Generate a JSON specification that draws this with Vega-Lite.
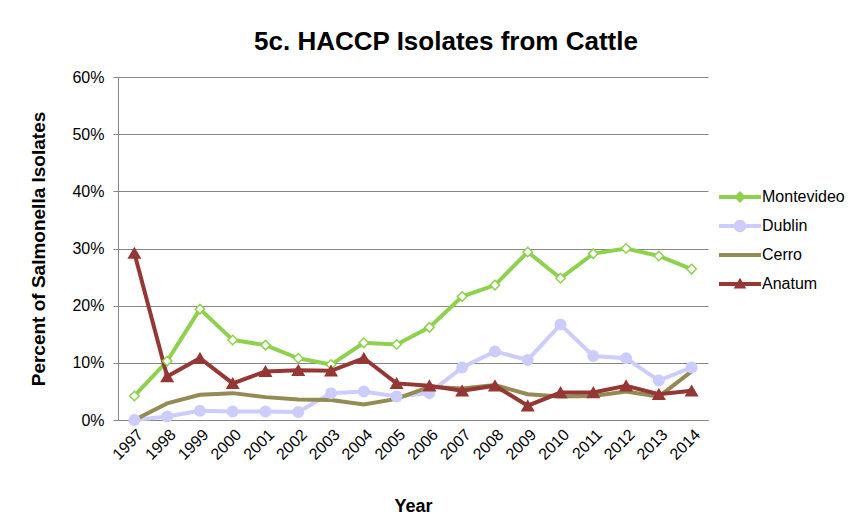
{
  "$schema": "https://vega.github.io/schema/vega-lite/v6.json",
  "autosize": {"type": "none"},
  "width": 590,
  "height": 343,
  "padding": {"left": 118, "top": 77, "right": 156, "bottom": 103},
  "background": "white",
  "config": {
    "font": "Arial",
    "view": {"stroke": null},
    "axis": {"labelFont": "Arial", "titleFont": "Arial", "labelColor": "black", "titleColor": "black"}
  },
  "title": {
    "text": "5c. HACCP Isolates from Cattle",
    "fontSize": 26,
    "fontWeight": "bold",
    "font": "Arial",
    "color": "black",
    "anchor": "middle",
    "dx": 33,
    "offset": 14
  },
  "data": {
    "values": [
      {"Year": "1997", "Series": "Montevideo", "Value": 0.042},
      {"Year": "1998", "Series": "Montevideo", "Value": 0.103},
      {"Year": "1999", "Series": "Montevideo", "Value": 0.194},
      {"Year": "2000", "Series": "Montevideo", "Value": 0.140},
      {"Year": "2001", "Series": "Montevideo", "Value": 0.131},
      {"Year": "2002", "Series": "Montevideo", "Value": 0.108},
      {"Year": "2003", "Series": "Montevideo", "Value": 0.097},
      {"Year": "2004", "Series": "Montevideo", "Value": 0.135},
      {"Year": "2005", "Series": "Montevideo", "Value": 0.132},
      {"Year": "2006", "Series": "Montevideo", "Value": 0.162},
      {"Year": "2007", "Series": "Montevideo", "Value": 0.216},
      {"Year": "2008", "Series": "Montevideo", "Value": 0.236},
      {"Year": "2009", "Series": "Montevideo", "Value": 0.294},
      {"Year": "2010", "Series": "Montevideo", "Value": 0.248},
      {"Year": "2011", "Series": "Montevideo", "Value": 0.291},
      {"Year": "2012", "Series": "Montevideo", "Value": 0.300},
      {"Year": "2013", "Series": "Montevideo", "Value": 0.287},
      {"Year": "2014", "Series": "Montevideo", "Value": 0.264},
      {"Year": "1997", "Series": "Dublin", "Value": 0.000},
      {"Year": "1998", "Series": "Dublin", "Value": 0.006},
      {"Year": "1999", "Series": "Dublin", "Value": 0.016},
      {"Year": "2000", "Series": "Dublin", "Value": 0.015},
      {"Year": "2001", "Series": "Dublin", "Value": 0.015},
      {"Year": "2002", "Series": "Dublin", "Value": 0.014},
      {"Year": "2003", "Series": "Dublin", "Value": 0.047},
      {"Year": "2004", "Series": "Dublin", "Value": 0.050},
      {"Year": "2005", "Series": "Dublin", "Value": 0.041},
      {"Year": "2006", "Series": "Dublin", "Value": 0.047},
      {"Year": "2007", "Series": "Dublin", "Value": 0.092},
      {"Year": "2008", "Series": "Dublin", "Value": 0.120},
      {"Year": "2009", "Series": "Dublin", "Value": 0.105},
      {"Year": "2010", "Series": "Dublin", "Value": 0.167},
      {"Year": "2011", "Series": "Dublin", "Value": 0.112},
      {"Year": "2012", "Series": "Dublin", "Value": 0.108},
      {"Year": "2013", "Series": "Dublin", "Value": 0.069},
      {"Year": "2014", "Series": "Dublin", "Value": 0.092},
      {"Year": "1997", "Series": "Cerro", "Value": 0.000},
      {"Year": "1998", "Series": "Cerro", "Value": 0.029},
      {"Year": "1999", "Series": "Cerro", "Value": 0.044},
      {"Year": "2000", "Series": "Cerro", "Value": 0.047},
      {"Year": "2001", "Series": "Cerro", "Value": 0.040},
      {"Year": "2002", "Series": "Cerro", "Value": 0.036},
      {"Year": "2003", "Series": "Cerro", "Value": 0.035},
      {"Year": "2004", "Series": "Cerro", "Value": 0.027},
      {"Year": "2005", "Series": "Cerro", "Value": 0.037},
      {"Year": "2006", "Series": "Cerro", "Value": 0.058},
      {"Year": "2007", "Series": "Cerro", "Value": 0.055},
      {"Year": "2008", "Series": "Cerro", "Value": 0.061},
      {"Year": "2009", "Series": "Cerro", "Value": 0.045},
      {"Year": "2010", "Series": "Cerro", "Value": 0.041},
      {"Year": "2011", "Series": "Cerro", "Value": 0.042},
      {"Year": "2012", "Series": "Cerro", "Value": 0.050},
      {"Year": "2013", "Series": "Cerro", "Value": 0.041},
      {"Year": "2014", "Series": "Cerro", "Value": 0.085},
      {"Year": "1997", "Series": "Anatum", "Value": 0.292},
      {"Year": "1998", "Series": "Anatum", "Value": 0.076},
      {"Year": "1999", "Series": "Anatum", "Value": 0.108},
      {"Year": "2000", "Series": "Anatum", "Value": 0.064},
      {"Year": "2001", "Series": "Anatum", "Value": 0.085},
      {"Year": "2002", "Series": "Anatum", "Value": 0.087},
      {"Year": "2003", "Series": "Anatum", "Value": 0.086},
      {"Year": "2004", "Series": "Anatum", "Value": 0.108},
      {"Year": "2005", "Series": "Anatum", "Value": 0.064},
      {"Year": "2006", "Series": "Anatum", "Value": 0.060},
      {"Year": "2007", "Series": "Anatum", "Value": 0.051},
      {"Year": "2008", "Series": "Anatum", "Value": 0.060},
      {"Year": "2009", "Series": "Anatum", "Value": 0.025},
      {"Year": "2010", "Series": "Anatum", "Value": 0.048},
      {"Year": "2011", "Series": "Anatum", "Value": 0.048},
      {"Year": "2012", "Series": "Anatum", "Value": 0.060},
      {"Year": "2013", "Series": "Anatum", "Value": 0.045},
      {"Year": "2014", "Series": "Anatum", "Value": 0.051}
    ]
  },
  "encoding": {
    "x": {
      "field": "Year",
      "type": "ordinal",
      "scale": {"type": "point", "padding": 0.5},
      "axis": {
        "title": "Year",
        "titleFontSize": 18,
        "titleFontWeight": "bold",
        "titlePadding": 35,
        "labelFontSize": 16,
        "labelAngle": -45,
        "labelPadding": 6,
        "ticks": false,
        "grid": false,
        "domainColor": "#868686",
        "domainWidth": 1
      }
    },
    "y": {
      "field": "Value",
      "type": "quantitative",
      "scale": {"domain": [0, 0.6], "nice": false},
      "axis": {
        "title": "Percent of Salmonella Isolates",
        "titleFontSize": 19,
        "titleFontWeight": "bold",
        "titlePadding": 23,
        "format": ".0%",
        "values": [0, 0.1, 0.2, 0.3, 0.4, 0.5, 0.6],
        "labelFontSize": 16,
        "labelPadding": 9,
        "tickSize": 5,
        "tickColor": "#868686",
        "domainColor": "#868686",
        "gridColor": "#868686",
        "gridWidth": 1
      }
    },
    "color": {
      "field": "Series",
      "type": "nominal",
      "scale": {
        "domain": ["Montevideo", "Dublin", "Cerro", "Anatum"],
        "range": ["#8ED14F", "#CCCCFF", "#948A54", "#953735"]
      },
      "legend": {
        "title": null,
        "orient": "none",
        "legendX": 601,
        "legendY": 99,
        "symbolSize": 1764,
        "symbolType": "M-1,-0.1H1V0.1H-1Z",
        "labelFontSize": 16,
        "labelFont": "Arial",
        "labelColor": "black",
        "rowPadding": 0,
        "labelOffset": 1,
        "encode": {
          "symbols": {
            "update": {
              "shape": {"signal": "datum.value === 'Montevideo' ? 'M-1,-0.1H1V0.1H-1Z M0,-0.28L0.28,0L0,0.28L-0.28,0Z' : datum.value === 'Dublin' ? 'M-1,-0.1H1V0.1H-1Z M0,-0.3L0.15,-0.26L0.26,-0.15L0.3,0L0.26,0.15L0.15,0.26L0,0.3L-0.15,0.26L-0.26,0.15L-0.3,0L-0.26,-0.15L-0.15,-0.26Z' : datum.value === 'Anatum' ? 'M-1,-0.1H1V0.1H-1Z M0,-0.3L0.3,0.22L-0.3,0.22Z' : 'M-1,-0.1H1V0.1H-1Z'"},
              "fill": {"signal": "datum.value === 'Montevideo' ? '#8ED14F' : datum.value === 'Dublin' ? '#CCCCFF' : datum.value === 'Cerro' ? '#948A54' : '#953735'"},
              "stroke": {"value": "transparent"},
              "strokeWidth": {"value": 0},
              "opacity": {"value": 1},
              "fillOpacity": {"value": 1}
            }
          }
        }
      }
    }
  },
  "layer": [
    {
      "mark": {"type": "line", "strokeWidth": 4}
    },
    {
      "transform": [{"filter": "datum.Series !== 'Cerro'"}],
      "mark": {"type": "point", "filled": true, "strokeWidth": 1.5, "opacity": 1},
      "encoding": {
        "shape": {
          "field": "Series",
          "type": "nominal",
          "scale": {"domain": ["Montevideo", "Dublin", "Anatum"], "range": ["diamond", "circle", "triangle-up"]},
          "legend": null
        },
        "fill": {
          "field": "Series",
          "type": "nominal",
          "scale": {"domain": ["Montevideo", "Dublin", "Anatum"], "range": ["#FFFFFF", "#CCCCFF", "#953735"]},
          "legend": null
        },
        "stroke": {
          "field": "Series",
          "type": "nominal",
          "scale": {"domain": ["Montevideo", "Dublin", "Anatum"], "range": ["#8ED14F", "#CCCCFF", "#953735"]},
          "legend": null
        },
        "size": {
          "field": "Series",
          "type": "nominal",
          "scale": {"domain": ["Montevideo", "Dublin", "Anatum"], "range": [90, 130, 150]},
          "legend": null
        }
      }
    }
  ]
}
